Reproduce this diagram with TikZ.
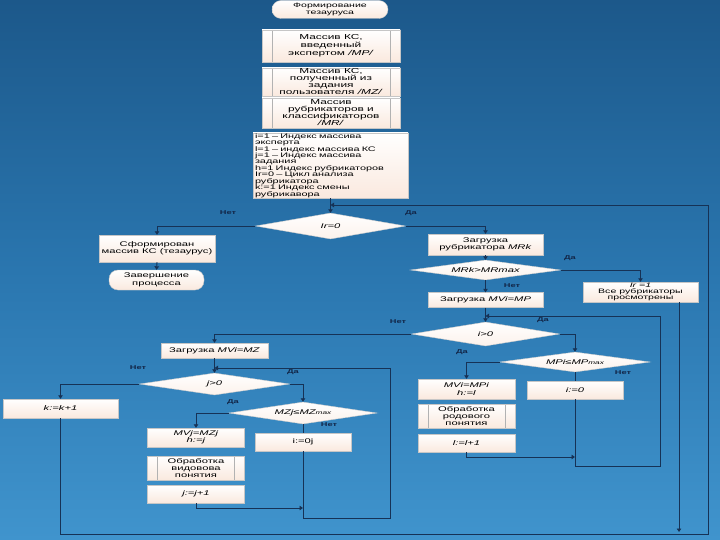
\documentclass[tikz,border=0pt]{standalone}
\usepackage{fontspec}
\setmainfont{Liberation Sans}[FakeStretch=1.65]
\usetikzlibrary{shapes.geometric,arrows.meta}
\definecolor{bgtop}{RGB}{28,88,138}
\definecolor{bgmid}{RGB}{42,118,175}
\definecolor{bgbot}{RGB}{64,148,205}
\definecolor{ln}{RGB}{22,50,86}
\definecolor{peach}{RGB}{250,233,222}
\definecolor{lbl}{RGB}{18,38,72}
\newcommand\myfa{\fontsize{6.8}{7.4}\selectfont}
\newcommand\myfb{\fontsize{7.2}{8.2}\selectfont}
\newcommand\myfbb{\fontsize{7.2}{7}\selectfont}
\newcommand\myfc{\fontsize{6.6}{6.45}\selectfont}
\newcommand\myfd{\fontsize{6.4}{6.4}\selectfont}
\newcommand\myfl{\fontsize{5.6}{6}\selectfont\bfseries}
\begin{document}
\begin{tikzpicture}[x=1pt,y=-1pt,
  bx/.style 2 args={rectangle, draw=gray!45, line width=0.4pt, top color=white, bottom color=peach,
    minimum width=#1, minimum height=#2, inner sep=0.5pt, align=center, font=\myfa},
  pre/.style 2 args={bx={#1}{#2}, path picture={\draw[gray!60,line width=0.5pt]
    ([xshift=10pt]path picture bounding box.north west) -- ([xshift=10pt]path picture bounding box.south west)
    ([xshift=-10pt]path picture bounding box.north east) -- ([xshift=-10pt]path picture bounding box.south east);}},
  term/.style 2 args={bx={#1}{#2}, rounded corners=9pt},
  dia/.style 2 args={diamond, aspect=7, draw=gray!40, line width=0.4pt, top color=white, bottom color=peach!60,
    minimum width=#1, minimum height=#2, inner sep=0pt, font=\myfa\itshape},
  conn/.style={draw=ln, line width=0.9pt},
  arr/.style={conn, -{Triangle[width=4.5pt,length=3.5pt]}},
  lab/.style={font=\myfl, text=lbl, inner sep=0pt}
]
\useasboundingbox (0,0) rectangle (720,540);
\shade[top color=bgtop, bottom color=bgbot, middle color=bgmid] (0,0) rectangle (720,540);

% top chain
\node[term={116}{18}, font=\myfd] (t1) at (330,9.5) {Формирование\\тезауруса};
\node[pre={138}{32}, font=\myfb] (p1) at (331,46) {Массив КС,\\введенный\\экспертом \textit{/MP/}};
\node[pre={138}{28}, font=\myfbb] (p2) at (331,82) {Массив КС,\\полученный из\\задания\\пользователя \textit{/MZ/}};
\node[pre={138}{30}, font=\myfbb] (p3) at (331,113) {Массив\\рубрикаторов и\\классификаторов\\\textit{/MR/}};
\node[bx={155}{65}, font=\myfc, align=left, text width=151pt, inner xsep=2pt] (b5) at (330.5,165.5)
  {i=1 – Индекс массива\\эксперта\\l=1 – индекс массива КС\\j=1 – Индекс массива\\задания\\h=1 Индекс рубрикаторов\\Ir=0 – Цикл анализа\\рубрикатора\\k:=1 Индекс смены\\рубрикавора};

\node[dia={150}{26}] (ir0) at (330.5,226) {Ir=0};
\node[bx={116}{27}] (sform) at (157,248.5) {Сформирован\\массив КС (тезаурус)};
\node[term={95}{20}] (endt) at (156.5,280) {Завершение\\процесса};

\node[bx={115}{21}] (mrk) at (485.5,244.5) {Загрузка\\рубрикатора \textit{MRk}};
\node[dia={150}{20}] (mrkd) at (485.5,270) {MRk>MRmax};
\node[bx={115}{20}, font=\myfd] (all) at (640.5,292) {\textit{Ir =1}\\Все рубрикаторы\\просмотрены};
\node[bx={115}{15}] (mvimp) at (485.5,300) {Загрузка \textit{MVi=MP}};

\node[dia={148}{24}] (i0d) at (485.5,334) {i>0};
\node[dia={150}{20}] (mpd) at (575,362) {MPi≤MP{\fontsize{5}{5}\selectfont max}};
\node[bx={97}{20}] (mvimpi) at (466.5,389) {\textit{MVi=MPi}\\\textit{h:=l}};
\node[pre={97}{24}] (obrr) at (466.5,416) {Обработка\\родового\\понятия};
\node[bx={97}{18}] (ll) at (466.5,443) {\textit{l:=l+1}};
\node[bx={96}{18}] (i0) at (575,390) {\textit{i:=0}};

\node[bx={107}{15}] (mvimz) at (214.5,350.5) {Загрузка \textit{MVi=MZ}};
\node[dia={150}{22}] (jd) at (214.5,384) {j>0};
\node[dia={148}{22}] (mzd) at (303,413) {MZj≤MZ{\fontsize{5}{5}\selectfont max}};
\node[bx={115}{19}] (kk) at (60.5,408.5) {\textit{k:=k+1}};
\node[bx={97}{19}] (mvj) at (196,437.5) {\textit{MVj=MZj}\\\textit{h:=j}};
\node[pre={97}{24}] (obrv) at (196,468) {Обработка\\видовова\\понятия};
\node[bx={97}{18}] (jj) at (196,494) {\textit{j:=j+1}};
\node[bx={96}{18}] (i0j) at (303,442) {i:=0j};

% helper coordinates
\coordinate (m1) at (330.5,205);
\coordinate (c1) at (708,534);
\coordinate (c2) at (708,205);
\coordinate (c3) at (679,532);
\coordinate (c4) at (575,457);
\coordinate (c6) at (660,466);
\coordinate (c7) at (660,316);
\coordinate (m2) at (485.5,316);
\coordinate (c8) at (303,508);
\coordinate (c10) at (390,518);
\coordinate (c11) at (390,368);
\coordinate (m3) at (214.5,368);

% connectors
\draw[arr] (b5.south) -- (ir0.north);
\draw[arr] (kk.south) |- (c1) -- (c2) -- (m1);
\draw[arr] (ir0.west) -| (sform.north);
\draw[arr] (sform.south) -- (endt.north);
\draw[arr] (ir0.east) -| (mrk.north);
\draw[arr] (mrk.south) -- (mrkd.north);
\draw[arr] (mrkd.east) -| (all.north);
\draw[arr] (mrkd.south) -- (mvimp.north);
\draw[arr] (mvimp.south) -- (i0d.north);
\draw[arr] (all.south -| c3) -- (c3);
\draw[arr] (i0d.east) -| (mpd.north);
\draw[arr] (mpd.west) -| (mvimpi.north);
\draw[arr] (ll.south) |- (c4);
\draw[conn] (mpd.south) -- (i0.north);
\draw[arr] (i0.south) |- (c6) -- (c7) -- (m2);
\draw[arr] (i0d.west) -| (mvimz.north);
\draw[arr] (mvimz.south) -- (jd.north);
\draw[arr] (jd.west) -| (kk.north);
\draw[arr] (jd.east) -| (mzd.north);
\draw[arr] (mzd.west) -| (mvj.north);
\draw[arr] (jj.south) |- (c8);
\draw[conn] (mzd.south) -- (i0j.north);
\draw[arr] (i0j.south) |- (c10) -- (c11) -- (m3);

% labels
\node[lab] (l1) at (228,213) {Нет};
\node[lab] (l2) at (411,213) {Да};
\node[lab] (l3) at (570,258) {Да};
\node[lab] (l4) at (512,286) {Нет};
\node[lab] (l5) at (398,322) {Нет};
\node[lab] (l6) at (543,320) {Да};
\node[lab] (l7) at (462,352) {Да};
\node[lab] (l8) at (623,373) {Нет};
\node[lab] (l9) at (138,368) {Нет};
\node[lab] (l10) at (293,372) {Да};
\node[lab] (l11) at (233,402) {Да};
\node[lab] (l12) at (329,425) {Нет};
\end{tikzpicture}
\end{document}
